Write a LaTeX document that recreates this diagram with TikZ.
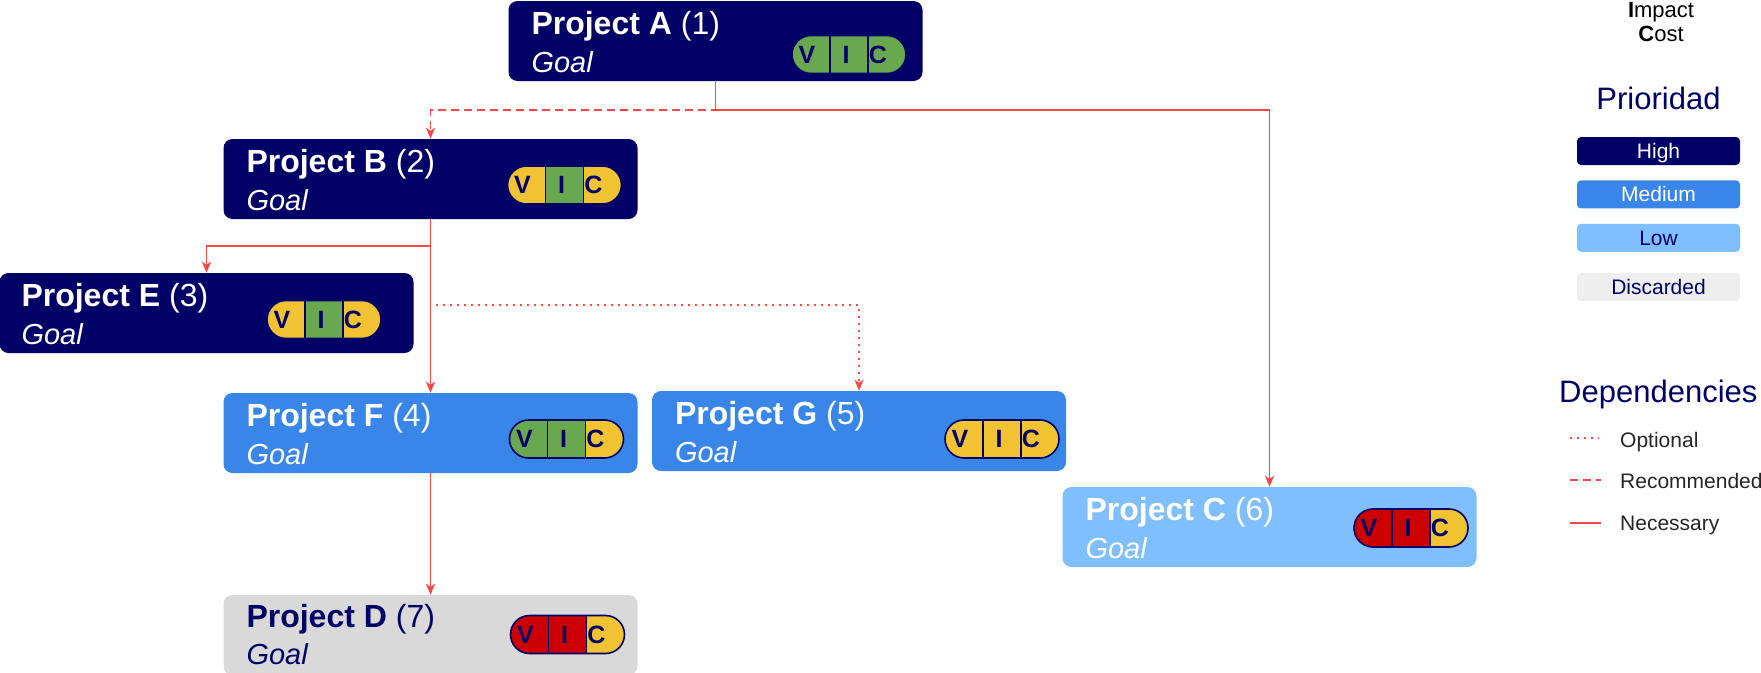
\documentclass[tikz,border=0pt]{standalone}
\usepackage{fontspec}
\setmainfont{Liberation Sans}
\usetikzlibrary{positioning,arrows.meta}
\definecolor{prionavy}{HTML}{000066}
\definecolor{priomed}{HTML}{3A86E8}
\definecolor{priolow}{HTML}{80BFFD}
\definecolor{priodisc}{HTML}{D9D9D9}
\definecolor{legdisc}{HTML}{EEEEEE}
\definecolor{depred}{HTML}{FF4646}
\definecolor{vicgreen}{HTML}{6AA84F}
\definecolor{vicyellow}{HTML}{F1C232}
\definecolor{vicred}{HTML}{CC0000}

% V/I/C pill: name prefix, centre, fills for V, I and C
\newcommand{\vicpill}[5]{%
  \begin{scope}[shift={(#2)}]
    \begin{scope}
      \clip[rounded corners=19pt] (-57,-19) rectangle (57,19);
      \fill[#3] (-57,-19) rectangle (-19,19);
      \fill[#4] (-19,-19) rectangle (19,19);
      \fill[#5] (19,-19) rectangle (57,19);
    \end{scope}
    \draw[prionavy, line width=1.6pt] (-19,-19) -- (-19,19) (19,-19) -- (19,19);
    \draw[prionavy, line width=1.6pt, rounded corners=19pt] (-57,-19) rectangle (57,19);
    \node[vicletter] (#1v) at (-42,0) {V};
    \node[vicletter] (#1i) at (-3,0) {I};
    \node[vicletter] (#1c) at (29,0) {C};
  \end{scope}}

\begin{document}
\begin{tikzpicture}[
    x=1pt, y=-1pt,
    proj/.style={
        fill=#1, rounded corners=9pt,
        minimum width=414pt, minimum height=80pt, inner sep=0pt
    },
    ptitle/.style={anchor=base west, inner sep=0pt,
        font=\fontsize{32}{38}\selectfont, text=#1},
    pgoal/.style={anchor=base west, inner sep=0pt,
        font=\fontsize{29}{34}\selectfont\itshape, text=#1},
    vicletter/.style={inner sep=0pt, text=prionavy,
        font=\fontsize{25}{29}\selectfont\bfseries},
    arr/.style={depred, line width=1.9pt,
        -{Stealth[length=11pt, width=9pt, inset=3pt]}},
    optdep/.style={dash pattern=on 2pt off 5pt},
    recdep/.style={dash pattern=on 8pt off 5pt},
    legbox/.style={
        fill=#1, rounded corners=4pt,
        minimum width=163pt, minimum height=28pt, inner sep=0pt,
        text height=15pt, text depth=0pt, font=\fontsize{21}{25}\selectfont
    },
    legtxt/.style={anchor=base west, inner sep=0pt,
        font=\fontsize{21}{25}\selectfont, text=black!85},
    head/.style={inner sep=0pt, font=\fontsize{31}{37}\selectfont, text=prionavy},
]
\useasboundingbox (0,0) rectangle (1761,672);

% === Projects ===
\node[proj=prionavy] (projA) at (715.5,41) {};
\node[ptitle=white] (projAt) at ([shift={(23,34)}]projA.north west) {\textbf{Project A} (1)};
\node[pgoal=white] (projAg) at ([shift={(23,72)}]projA.north west) {Goal};
\vicpill{pA}{849,54.5}{vicgreen}{vicgreen}{vicgreen}

\node[proj=prionavy] (projB) at (430.5,179) {};
\node[ptitle=white] (projBt) at ([shift={(23,34)}]projB.north west) {\textbf{Project B} (2)};
\node[pgoal=white] (projBg) at ([shift={(23,72)}]projB.north west) {Goal};
\vicpill{pB}{564.5,185}{vicyellow}{vicgreen}{vicyellow}

\node[proj=prionavy] (projE) at (206.5,313) {};
\node[ptitle=white] (projEt) at ([shift={(22,34)}]projE.north west) {\textbf{Project E} (3)};
\node[pgoal=white] (projEg) at ([shift={(22,72)}]projE.north west) {Goal};
\vicpill{pE}{324,319.5}{vicyellow}{vicgreen}{vicyellow}

\node[proj=priomed] (projF) at (430.5,433) {};
\node[ptitle=white] (projFt) at ([shift={(23,34)}]projF.north west) {\textbf{Project F} (4)};
\node[pgoal=white] (projFg) at ([shift={(23,72)}]projF.north west) {Goal};
\vicpill{pF}{566.5,439}{vicgreen}{vicgreen}{vicyellow}

\node[proj=priomed] (projG) at (859,431) {};
\node[ptitle=white] (projGt) at ([shift={(23,34)}]projG.north west) {\textbf{Project G} (5)};
\node[pgoal=white] (projGg) at ([shift={(23,72)}]projG.north west) {Goal};
\vicpill{pG}{1002,439}{vicyellow}{vicyellow}{vicyellow}

\node[proj=priolow] (projC) at (1269.5,527) {};
\node[ptitle=white] (projCt) at ([shift={(23,34)}]projC.north west) {\textbf{Project C} (6)};
\node[pgoal=white] (projCg) at ([shift={(23,72)}]projC.north west) {Goal};
\vicpill{pC}{1411,528}{vicred}{vicred}{vicyellow}

\node[proj=priodisc] (projD) at (430.5,635) {};
\node[ptitle=prionavy] (projDt) at ([shift={(23,33)}]projD.north west) {\textbf{Project D} (7)};
\node[pgoal=prionavy] (projDg) at ([shift={(23,70)}]projD.north west) {Goal};
\vicpill{pD}{567.5,634.5}{vicred}{vicred}{vicyellow}

% === Dependencies ===
\draw[arr, recdep] (projA.south) -- ++(0,29) -| (projB.north);
\draw[arr, optdep] (projB.south) -- ++(0,86) -| (projG.north);
\draw[arr] (projA.south) -- ++(0,29) -| (projC.north);
\draw[arr] (projB.south) -- ++(0,27) -| (projE.north);
\draw[arr] (projB.south) -- (projF.north);
\draw[arr] (projF.south) -- (projD.north);

% === Legend ===
\node[anchor=base, inner sep=0pt, font=\fontsize{22}{26}\selectfont] (keyI) at (1661,17) {\textbf{I}mpact};
\node[anchor=base, inner sep=0pt, font=\fontsize{22}{26}\selectfont] (keyC) at (1661,41) {\textbf{C}ost};

\node[head, anchor=base] (prio) at (1658.5,109) {Prioridad};
\node[legbox=prionavy, text=white] (lgHigh) at (1658.5,151) {High};
\node[legbox=priomed, text=white, below=15pt of lgHigh] (lgMed) {Medium};
\node[legbox=priolow, text=prionavy, below=15pt of lgMed] (lgLow) {Low};
\node[legbox=legdisc, text=prionavy, below=21pt of lgLow] (lgDisc) {Discarded};

\node[head, anchor=base west] (deps) at (1559,402) {Dependencies};
\node[legtxt] (lgOpt) at (1620,447) {Optional};
\node[legtxt] (lgRec) at (1620,488) {Recommended};
\node[legtxt] (lgNec) at (1620,530) {Necessary};
\coordinate (optA) at (1570,438);
\coordinate (recA) at (1570,480);
\coordinate (necA) at (1570,523);
\draw[depred, line width=1.9pt, optdep] (optA) -- ++(29,0);
\draw[depred, line width=1.9pt, recdep] (recA) -- ++(31,0);
\draw[depred, line width=1.9pt] (necA) -- ++(31,0);

\end{tikzpicture}
\end{document}
